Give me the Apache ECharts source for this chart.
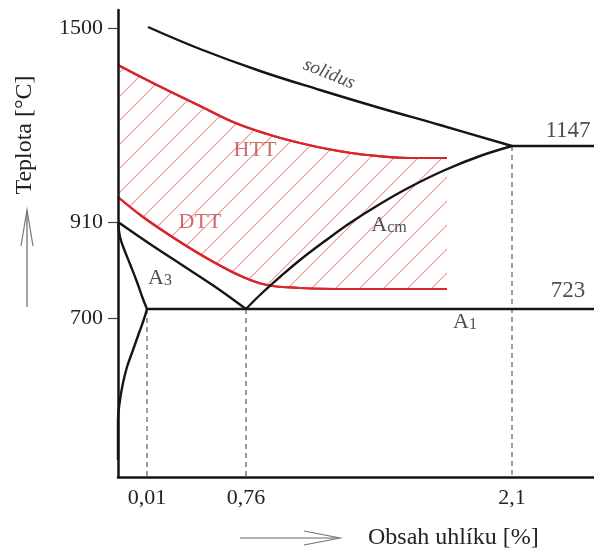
<!DOCTYPE html>
<html><head><meta charset="utf-8">
<script src="https://cdn.jsdelivr.net/npm/echarts@6/dist/echarts.min.js"></script>
<style>html,body{margin:0;padding:0;background:#fff}#c{width:594px;height:552px}</style>
</head><body><div id="c"></div>
<script>
// Schematic diagram units (the reference axes are not to scale):
// x = schematic carbon position 0..476, y = schematic temperature position 0..467
const xTickPos = [29, 128, 394];
const xTickLabels = ['0,01', '0,76', '2,1'];
const yTickPos = [159, 255, 449];
const yTickLabels = ['700', '910', '1500'];

const solidus = [[30,450],[82,428],[142,406],[202,387],[262,369],[322,352],[394,331]];
const eutectic = [[394,331],[476,331]];
const acm = [[128,168],[142,182],[162,200],[182,217],[207,236],[232,254],[262,273],[292,290],[327,307],[362,321],[394,331]];
const a3 = [[0,255],[32,233],[64,212],[96,191],[128,168]];
const gp = [[0,255],[2,240],[6,228],[12,213],[19,195],[25,178],[29,168]];
const pq = [[29,168],[26,158],[21,144],[15,127],[9,110],[5,94],[2,77],[0,57],[0,17]];
const a1 = [[29,168],[476,168]];
const htt = [[0,412],[25,399],[49,387],[82,371],[115,355],[149,343],[182,334],[215,327],[249,322],[292,319],[329,319]];
const dtt = [[0,280],[25,260],[59,237],[92,217],[125,200],[149,192],[182,189],[232,188],[329,188]];
const guide001 = [[29,168],[29,0]];
const guide076 = [[128,168],[128,0]];
const guide21 = [[394,331],[394,0]];

const labelNames = ['solidus', '1147', '723', 'A1', 'Acm', 'A3', 'HTT', 'DTT'];
const labelPos = [[211,403],[450,346],[450,186],[347,155],[271,252],[42,199],[137,327],[82,255]];

function hatch() {
  const s = 24, c = document.createElement('canvas');
  c.width = s; c.height = s;
  const g = c.getContext('2d');
  g.strokeStyle = 'rgba(222,85,85,0.58)';
  g.lineWidth = 1.2;
  g.beginPath();
  g.moveTo(-2, s + 2); g.lineTo(s + 2, -2);
  g.moveTo(-2, 2); g.lineTo(2, -2);
  g.moveTo(s - 2, s + 2); g.lineTo(s + 2, s - 2);
  g.stroke();
  return c;
}

const SERIF = '"Liberation Serif","Times New Roman",serif';
const BLACK = '#151515', RED = '#d8262b';

function line(data, color, width, z, extra) {
  return Object.assign({
    type: 'line', data: data, symbol: 'none', showSymbol: false, silent: true,
    smooth: 0.4, z: z, lineStyle: { color: color, width: width }
  }, extra || {});
}
function dashed(data) {
  return line(data, '#5a5a5a', 1.2, 3, { smooth: false, lineStyle: { color: '#5a5a5a', width: 1.2, type: [5, 4] } });
}

const labelStyle = {
  solidus: { formatter: 'solidus', fontStyle: 'italic', fontSize: 19, rotate: -22, color: '#222' },
  '1147': { formatter: '1147', fontSize: 23, color: '#222' },
  '723': { formatter: '723', fontSize: 23, color: '#222' },
  A1: { formatter: '{a|A}{s|1}' },
  Acm: { formatter: '{a|A}{s|cm}' },
  A3: { formatter: '{a|A}{s|3}' },
  HTT: { formatter: 'HTT', fontSize: 22, color: '#c44646' },
  DTT: { formatter: 'DTT', fontSize: 22, color: '#c44646' }
};

const labelData = labelNames.map((n, i) => ({
  value: labelPos[i],
  label: Object.assign({ show: true, position: 'inside', fontFamily: SERIF, color: '#222',
    rich: {
      a: { fontSize: 22, fontFamily: SERIF, color: '#222', verticalAlign: 'bottom', lineHeight: 22 },
      s: { fontSize: 16, fontFamily: SERIF, color: '#222', verticalAlign: 'bottom', lineHeight: 20 }
    }
  }, labelStyle[n])
}));

const chart = echarts.init(document.getElementById('c'), null, { renderer: 'canvas' });
chart.setOption({
  animation: false,
  backgroundColor: '#fff',
  grid: { left: 118, top: 10, right: 0, bottom: 75, containLabel: false },
  xAxis: {
    type: 'value', min: 0, max: 476, z: 10,
    axisLine: { show: true, lineStyle: { color: BLACK, width: 2.5 } },
    axisTick: { show: false },
    splitLine: { show: false },
    axisLabel: {
      customValues: xTickPos, margin: 10, fontFamily: SERIF, fontSize: 22, color: '#222',
      formatter: v => xTickLabels[xTickPos.indexOf(v)] || ''
    }
  },
  yAxis: {
    type: 'value', min: 0, max: 467, z: 10,
    axisLine: { show: true, lineStyle: { color: BLACK, width: 2.5 } },
    axisTick: { show: true, customValues: yTickPos, length: 10, lineStyle: { color: '#444', width: 1.2 } },
    splitLine: { show: false },
    axisLabel: {
      customValues: yTickPos, margin: 15, fontFamily: SERIF, fontSize: 22, color: '#222',
      formatter: v => yTickLabels[yTickPos.indexOf(v)] || ''
    }
  },
  series: [
    line(htt, RED, 2.2, 1, { areaStyle: { color: { image: hatch(), repeat: 'repeat' }, opacity: 1 } }),
    line(dtt, RED, 2.2, 2, { areaStyle: { color: '#ffffff', opacity: 1 } }),
    line(htt, RED, 2.2, 4),
    line(dtt, RED, 2.2, 4),
    dashed(guide001), dashed(guide076), dashed(guide21),
    line(solidus, BLACK, 2.4, 5),
    line(eutectic, BLACK, 2.4, 5, { smooth: false }),
    line(acm, BLACK, 2.4, 5),
    line(a3, BLACK, 2.4, 5),
    line(gp, BLACK, 2.4, 5),
    line(pq, BLACK, 2.4, 5),
    line(a1, BLACK, 2.6, 5, { smooth: false }),
    { type: 'scatter', symbolSize: 0, silent: true, z: 6, data: labelData }
  ],
  graphic: [
    { type: 'text', x: 25, y: 135, rotation: Math.PI / 2, z: 20,
      style: { text: 'Teplota [°C]', fontFamily: SERIF, fontSize: 24, fill: '#222', textAlign: 'center', textVerticalAlign: 'middle' } },
    { type: 'polyline', z: 20, shape: { points: [[27, 307], [27, 211]] }, style: { stroke: '#666', lineWidth: 1.2, fill: null } },
    { type: 'polyline', z: 20, shape: { points: [[21, 246], [27, 210], [33, 246]] }, style: { stroke: '#777', lineWidth: 1.2, fill: null } },
    { type: 'polyline', z: 20, shape: { points: [[240, 538], [339, 538]] }, style: { stroke: '#666', lineWidth: 1.2, fill: null } },
    { type: 'polyline', z: 20, shape: { points: [[304, 531], [340, 538], [304, 545]] }, style: { stroke: '#777', lineWidth: 1.2, fill: null } },
    { type: 'text', x: 368, y: 538, z: 20,
      style: { text: 'Obsah uhlíku [%]', fontFamily: SERIF, fontSize: 24, fill: '#222', textAlign: 'left', textVerticalAlign: 'middle' } }
  ]
});
</script>
</body></html>
